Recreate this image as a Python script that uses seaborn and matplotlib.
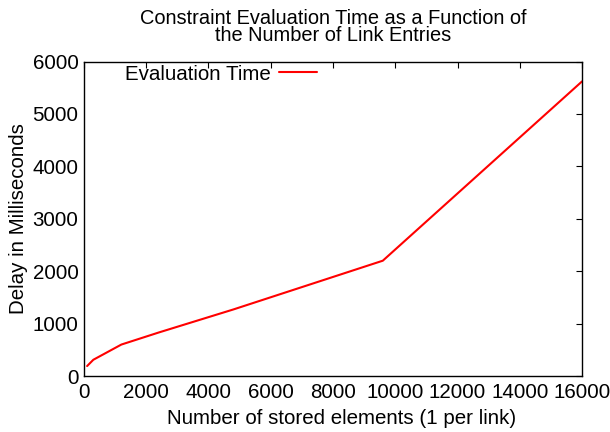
import matplotlib
matplotlib.use("Agg")
import matplotlib.pyplot as plt
import seaborn as sns
import pandas as pd

elements = [100, 300, 1200, 2400, 4800, 9600, 16000]
delay_ms = [190, 310, 600, 830, 1270, 2200, 5620]

sns.set_style("white", {"text.color": "black", "axes.labelcolor": "black",
                        "xtick.color": "black", "ytick.color": "black"})
plt.rcParams['font.family'] = ['Liberation Sans', 'DejaVu Sans']

df = pd.DataFrame({"elements": elements, "delay": delay_ms})

fig = plt.figure(figsize=(6.1, 4.32), dpi=100)
ax = fig.add_axes([0.1377, 0.1296, 0.8164, 0.728])
sns.lineplot(data=df, x="elements", y="delay", ax=ax, color="#ff0000",
             linewidth=1.5, label="Evaluation Time")

ax.set_xlim(0, 16000)
ax.set_ylim(0, 6000)
ax.set_xticks(range(0, 16001, 2000))
ax.set_yticks(range(0, 6001, 1000))
ax.tick_params(direction="in", length=4, width=0.8, top=True, right=True,
               labelsize=14.8, pad=5, colors="black")
ax.tick_params(axis="y", pad=4)
for s in ax.spines.values():
    s.set_visible(True)
    s.set_color("black")
    s.set_linewidth(1.0)

ax.set_xlabel("Number of stored elements (1 per link)", fontsize=14.8,
              labelpad=3, color="black")
ax.xaxis.set_label_coords(0.5 + 9 / 498, -0.105)
ax.set_ylabel("Delay in Milliseconds", fontsize=14.8, labelpad=3.5, color="black")
ax.set_title("Constraint Evaluation Time as a Function of\nthe Number of Link Entries",
             fontsize=14.4, linespacing=0.82, pad=15, color="black")

leg = ax.legend(loc="upper left", frameon=False, markerfirst=False,
                fontsize=14.8, handlelength=1.85, handletextpad=0.4,
                borderaxespad=0.1, borderpad=0.05, bbox_to_anchor=(0.076, 1.0))
for t in leg.get_texts():
    t.set_color("black")

fig.savefig("out.png", dpi=100)
